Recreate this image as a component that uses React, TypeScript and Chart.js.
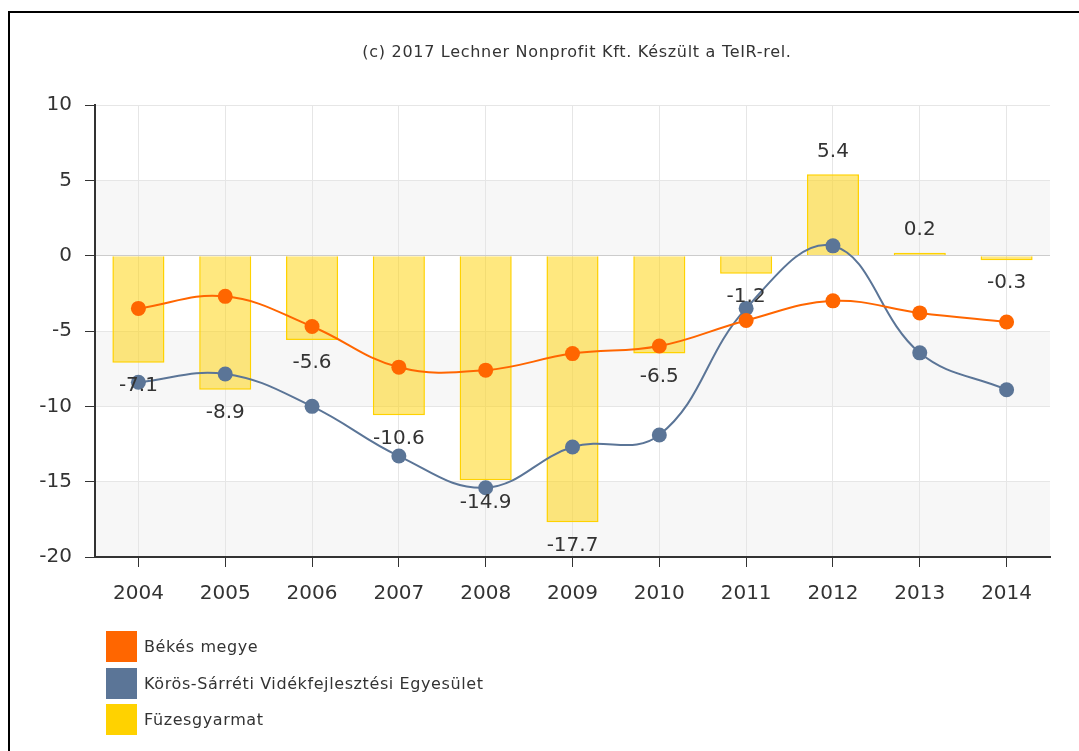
import React, { useEffect, useRef } from "react";
import { Chart, registerables } from "chart.js";

Chart.register(...registerables);

const years = ["2004", "2005", "2006", "2007", "2008", "2009", "2010", "2011", "2012", "2013", "2014"];
const bekesMegye = [-3.5, -2.7, -4.7, -7.4, -7.6, -6.5, -6.0, -4.3, -3.0, -3.8, -4.4];
const korosSarreti = [-8.4, -7.85, -10.0, -13.3, -15.4, -12.7, -11.9, -3.5, 0.65, -6.45, -8.9];
const fuzesgyarmat = [-7.1, -8.9, -5.6, -10.6, -14.9, -17.7, -6.5, -1.2, 5.4, 0.2, -0.3];
const yTicks = [10, 5, 0, -5, -10, -15, -20];
const bandRanges = [[5, 0], [-5, -10], [-15, -20]];

const titleText = "(c) 2017 Lechner Nonprofit Kft. Készült a TeIR-rel.";
const seriesNames = ["Békés megye", "Körös-Sárréti Vidékfejlesztési Egyesület", "Füzesgyarmat"];
const seriesColors = ["#ff6600", "#5b7597", "#ffd200"];

const FONT = "'DejaVu Sans', Verdana, sans-serif";

const bandsPlugin = {
  id: "bands",
  beforeDraw(chart: any) {
    const { ctx, chartArea, scales } = chart;
    const y = scales.y;
    ctx.save();
    ctx.fillStyle = "#f7f7f7";
    for (const [a, b] of bandRanges) {
      const top = y.getPixelForValue(a);
      const bot = y.getPixelForValue(b);
      ctx.fillRect(chartArea.left, top, chartArea.right - chartArea.left, bot - top);
    }
    ctx.restore();
  },
};

const titlePlugin = {
  id: "customTitle",
  afterDraw(chart: any) {
    const { ctx } = chart;
    ctx.save();
    ctx.font = `16px ${FONT}`;
    (ctx as any).letterSpacing = "0.7px";
    ctx.fillStyle = "#333333";
    ctx.textAlign = "center";
    ctx.textBaseline = "middle";
    ctx.fillText(titleText, 577, 53);
    ctx.restore();
  },
};

const labelsPlugin = {
  id: "barLabels",
  afterDatasetsDraw(chart: any) {
    const { ctx } = chart;
    const meta = chart.getDatasetMeta(2);
    const data = chart.data.datasets[2].data as number[];
    ctx.save();
    ctx.font = `20px ${FONT}`;
    ctx.fillStyle = "#333333";
    ctx.textAlign = "center";
    ctx.textBaseline = "middle";
    meta.data.forEach((el: any, i: number) => {
      const v = data[i];
      const base = chart.scales.y.getPixelForValue(v);
      const yy = v < 0 ? base + 23 : base - 23;
      ctx.fillText(v.toFixed(1), el.x, yy);
    });
    ctx.restore();
  },
};

export default function App() {
  const ref = useRef<HTMLCanvasElement | null>(null);

  useEffect(() => {
    if (!ref.current) return;
    const chart = new Chart(ref.current, {
      type: "bar",
      data: {
        labels: years,
        datasets: [
          {
            type: "line",
            label: seriesNames[0],
            data: bekesMegye,
            borderColor: seriesColors[0],
            backgroundColor: seriesColors[0],
            borderWidth: 2,
            pointRadius: 7.5,
            pointBorderWidth: 0,
            pointBackgroundColor: seriesColors[0],
            tension: 0.4,
            order: 1,
          } as any,
          {
            type: "line",
            label: seriesNames[1],
            data: korosSarreti,
            borderColor: seriesColors[1],
            backgroundColor: seriesColors[1],
            borderWidth: 2,
            pointRadius: 7.5,
            pointBorderWidth: 0,
            pointBackgroundColor: seriesColors[1],
            tension: 0.4,
            order: 2,
          } as any,
          {
            type: "bar",
            label: seriesNames[2],
            data: fuzesgyarmat,
            backgroundColor: "rgba(255, 210, 0, 0.5)",
            borderColor: "#ffd200",
            borderWidth: 1.5,
            barPercentage: 0.6,
            categoryPercentage: 1,
            order: 3,
          } as any,
        ],
      },
      options: {
        responsive: false,
        animation: false,
        layout: { padding: { left: 0, right: 29, top: 105, bottom: 134 } },
        plugins: {
          legend: { display: false },
          tooltip: { enabled: false },
          title: { display: false },
        },
        scales: {
          x: {
            offset: true,
            grid: {
              offset: false,
              color: "#e6e6e6",
              tickColor: "#333333",
              tickLength: 10,
              drawOnChartArea: true,
            },
            border: { color: "#333333", width: 2 },
            ticks: {
              color: "#333333",
              font: { family: FONT, size: 20 },
              padding: 15,
              maxRotation: 0,
            },
            afterFit: (s: any) => {
              s.height = 60;
            },
          },
          y: {
            min: -20,
            max: 10,
            afterBuildTicks: (s: any) => {
              s.ticks = yTicks.map((v) => ({ value: v }));
            },
            grid: {
              color: (c: any) => (c.tick && c.tick.value === 0 ? "#cccccc" : "#e6e6e6"),
              tickColor: "#333333",
              tickLength: 10,
            },
            border: { color: "#333333", width: 2 },
            ticks: {
              color: "#333333",
              font: { family: FONT, size: 20 },
              padding: 13,
            },
            afterFit: (s: any) => {
              s.width = 95;
            },
          },
        },
      },
      plugins: [bandsPlugin, labelsPlugin, titlePlugin],
    });
    return () => chart.destroy();
  }, []);

  return (
    <div style={{ position: "fixed", inset: 0, overflow: "hidden", background: "#fff" }}>
      <div
        style={{
          position: "absolute",
          left: 8,
          top: 11,
          width: 1200,
          height: 900,
          borderLeft: "2px solid #000",
          borderTop: "2px solid #000",
        }}
      />
      <canvas
        ref={ref}
        width={1079}
        height={751}
        style={{ position: "absolute", left: 0, top: 0, width: 1079, height: 751 }}
      />
      <div
        style={{
          position: "absolute",
          left: 106,
          top: 631,
          fontFamily: FONT,
          fontSize: 16,
          letterSpacing: "0.6px",
          color: "#333",
        }}
      >
        {seriesNames.map((n, i) => (
          <div key={n} style={{ display: "flex", alignItems: "center", height: 31, marginBottom: 5.5 }}>
            <div style={{ width: 31, height: 31, background: seriesColors[i], flex: "none" }} />
            <span style={{ marginLeft: 7, whiteSpace: "nowrap" }}>{n}</span>
          </div>
        ))}
      </div>
    </div>
  );
}
